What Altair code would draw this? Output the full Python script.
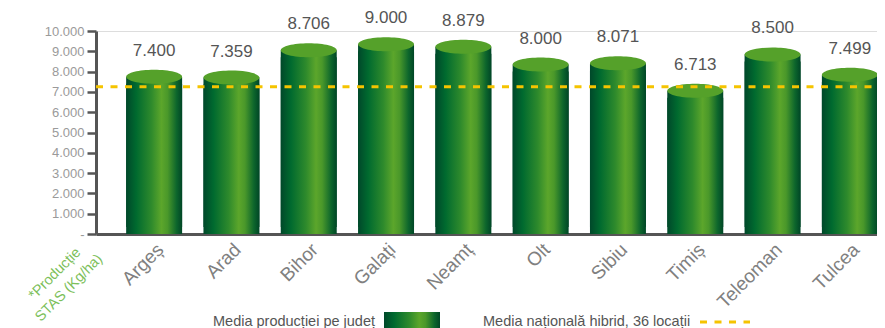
import altair as alt
import pandas as pd

# ---- data ----
judete = ["Argeș", "Arad", "Bihor", "Galați", "Neamț", "Olt", "Sibiu", "Timiș", "Teleoman", "Tulcea"]
productie = [7400, 7359, 8706, 9000, 8879, 8000, 8071, 6713, 8500, 7499]
etichete = ["7.400", "7.359", "8.706", "9.000", "8.879", "8.000", "8.071", "6.713", "8.500", "7.499"]
medie_nationala = [7250]
y_ticks = [0, 1000, 2000, 3000, 4000, 5000, 6000, 7000, 8000, 9000, 10000]
legenda_bare = ["Media producției pe județ"]
legenda_linie = ["Media națională hibrid, 36 locații"]
titlu_axa = ["*Producție", "STAS (Kg/ha)"]

FONT = "Liberation Sans"
W, H = 781, 203
X_RANGE = 812  # the band range runs past the visible right edge, as in the cropped original

df = pd.DataFrame({"judet": judete, "productie": productie, "eticheta": etichete})

cyl = alt.Gradient(
    gradient="linear", x1=0, x2=1, y1=0, y2=0,
    stops=[
        alt.GradientStop(color="#00482a", offset=0),
        alt.GradientStop(color="#006a2f", offset=0.18),
        alt.GradientStop(color="#2e8a2c", offset=0.45),
        alt.GradientStop(color="#5ca62b", offset=0.63),
        alt.GradientStop(color="#4a982a", offset=0.74),
        alt.GradientStop(color="#0d662c", offset=0.9),
        alt.GradientStop(color="#004626", offset=1),
    ],
)

x_enc = alt.X(
    "judet:N", sort=judete,
    scale=alt.Scale(paddingInner=0.276, paddingOuter=0.39, range=[0, X_RANGE]),
    axis=alt.Axis(
        title=None, labelAngle=-45, labelFontSize=19, labelColor="#808080", labelFont=FONT,
        ticks=False, domainColor="#555555", domainWidth=3, labelPadding=6, labelOffset=0,
        labelOverlap=False,
    ),
)
y_scale = alt.Scale(domain=[0, 10000], nice=False)
y_axis = alt.Axis(
    title=None, values=y_ticks, grid=False, labelOverlap=False,
    labelExpr="datum.value == 0 ? '-' : replace(format(datum.value, ','), ',', '.')",
    labelFontSize=13, labelColor="#9a9a9a", labelFont=FONT, labelPadding=3,
    domainColor="#555555", domainWidth=3, tickColor="#555555", tickWidth=2.5, tickSize=9,
)
y_enc = alt.Y("productie:Q", scale=y_scale, axis=y_axis)

base = alt.Chart(df).encode(x=x_enc, y=y_enc)

bars = base.mark_bar(color=cyl)
bars_top = base.mark_bar(color=cyl, yOffset=-7)

ellipse_path = "M -1 0 A 1 0.25 0 1 0 1 0 A 1 0.25 0 1 0 -1 0 Z"
tops = base.mark_point(
    shape=ellipse_path, size=3125, filled=True, fill="#55a12a", opacity=1,
    strokeWidth=0, yOffset=-7,
)

labels = base.mark_text(
    dy=-33, baseline="middle", fontSize=17, color="#555555", font=FONT,
).encode(text="eticheta:N")

mean_rule = alt.Chart(pd.DataFrame({"medie": medie_nationala})).mark_rule(
    color="#f5c400", strokeWidth=3, strokeDash=[7, 7.5],
).encode(y=alt.Y("medie:Q", scale=y_scale, axis=y_axis),
         x=alt.value(0), x2=alt.value(X_RANGE))

axis_title = alt.Chart(pd.DataFrame({"t": [titlu_axa]})).mark_text(
    angle=315, align="center", baseline="middle", fontSize=14.5, color="#7cc05a",
    font=FONT, lineHeight=20,
).encode(x=alt.value(-41), y=alt.value(H + 40), text="t")

leg_df1 = pd.DataFrame({"t": legenda_bare})
leg_text1 = alt.Chart(leg_df1).mark_text(
    align="left", baseline="middle", fontSize=14.5, color="#555555", font=FONT,
).encode(x=alt.value(117), y=alt.value(H + 88), text="t:N")
leg_swatch = alt.Chart(leg_df1).mark_rect(color=cyl).encode(
    x=alt.value(288), x2=alt.value(344), y=alt.value(H + 78), y2=alt.value(H + 100)
)
leg_df2 = pd.DataFrame({"t": legenda_linie})
leg_text2 = alt.Chart(leg_df2).mark_text(
    align="left", baseline="middle", fontSize=14.5, color="#555555", font=FONT,
).encode(x=alt.value(387), y=alt.value(H + 88), text="t:N")
leg_line = alt.Chart(leg_df2).mark_rule(
    color="#f5c400", strokeWidth=3, strokeDash=[7, 7.5],
).encode(x=alt.value(604), x2=alt.value(654), y=alt.value(H + 88))

chart = alt.layer(
    bars, bars_top, tops, labels, mean_rule, axis_title, leg_text1, leg_swatch, leg_text2, leg_line
).properties(
    width=W, height=H,
    autosize=alt.AutoSizeParams(type="none"),
    padding={"left": 88, "top": 23, "right": 0, "bottom": 100},
).configure_view(stroke=None).configure(font=FONT)

chart.save("out.html", embed_options={"renderer": "svg", "actions": False})
